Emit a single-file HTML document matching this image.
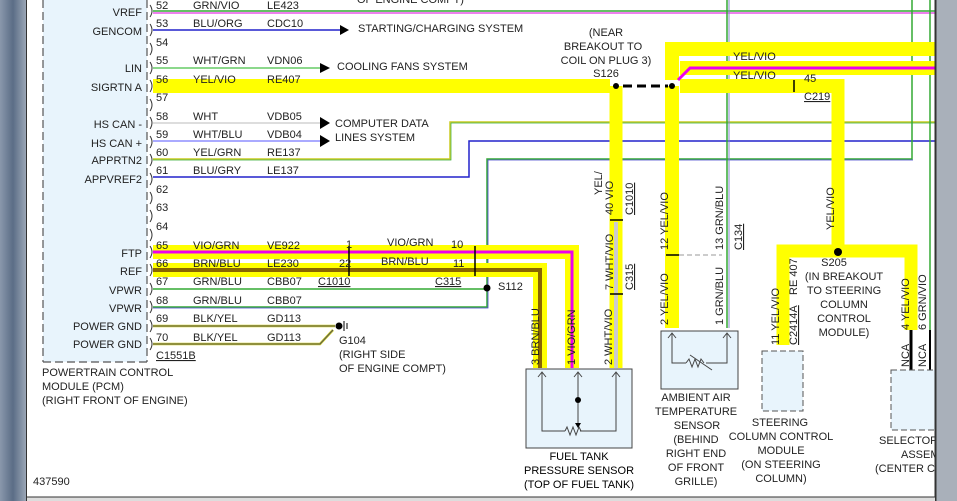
<!DOCTYPE html>
<html><head><meta charset="utf-8"><style>
html,body{margin:0;padding:0;background:#fff;}
svg{display:block;font-family:"Liberation Sans",sans-serif;font-size:11px;}
</style></head><body>
<svg width="957" height="501" viewBox="0 0 957 501" xmlns="http://www.w3.org/2000/svg">
<defs>
<linearGradient id="lf" x1="0" x2="1"><stop offset="0" stop-color="#8a98ac"/><stop offset="0.5" stop-color="#5b6d86"/><stop offset="1" stop-color="#9aa6b6"/></linearGradient>
</defs>
<rect x="0" y="0" width="957" height="501" fill="#fff"/>
<rect x="43" y="0" width="104" height="362" fill="#e8f4fc"/>
<line x1="43" y1="0" x2="43" y2="362" stroke="#555" stroke-dasharray="8,4" stroke-width="1.2"/>
<line x1="43" y1="362" x2="147" y2="362" stroke="#555" stroke-dasharray="8,4" stroke-width="1.2"/>
<line x1="147" y1="0" x2="147" y2="362" stroke="#555" stroke-dasharray="8,4" stroke-width="1.2"/>
<g text-anchor="end" fill="#222">
<text x="142" y="16">VREF</text><text x="142" y="35">GENCOM</text>
<text x="142" y="72">LIN</text><text x="142" y="91">SIGRTN A</text>
<text x="142" y="128">HS CAN -</text><text x="142" y="147">HS CAN +</text>
<text x="142" y="164">APPRTN2</text><text x="142" y="183">APPVREF2</text>
<text x="142" y="257">FTP</text><text x="142" y="275">REF</text>
<text x="142" y="294">VPWR</text><text x="142" y="312">VPWR</text>
<text x="142" y="330">POWER GND</text><text x="142" y="348">POWER GND</text>
</g>
<g fill="none" stroke="#333" stroke-width="1">
<path d="M150 5 q4 6 0 12 M150 24 q4 6 0 12 M150 43 q4 6 0 12 M150 62 q4 6 0 12 M150 80 q4 6 0 12 M150 99 q4 6 0 12 M150 117 q4 6 0 12 M150 136 q4 6 0 12 M150 154 q4 6 0 12 M150 173 q4 6 0 12 M150 192 q4 6 0 12 M150 210 q4 6 0 12 M150 229 q4 6 0 12 M150 246 q4 6 0 12 M150 264 q4 6 0 12 M150 283 q4 6 0 12 M150 301 q4 6 0 12 M150 320 q4 6 0 12 M150 338 q4 6 0 12"/>
</g>
<line x1="153" y1="11" x2="935" y2="11" stroke="#3a3" stroke-width="1.5"/>
<line x1="153" y1="13" x2="935" y2="13" stroke="#d0d" stroke-width="1"/>
<line x1="153" y1="30" x2="340" y2="30" stroke="#22c" stroke-width="1.5"/>
<polygon points="340,25 349,30 340,35" fill="#000"/>
<line x1="153" y1="68" x2="320" y2="68" stroke="#6c6" stroke-width="1.5"/>
<polygon points="320,63 330,68 320,73" fill="#000"/>
<line x1="153" y1="123" x2="320" y2="123" stroke="#ddd" stroke-width="2"/>
<polygon points="320,117 330,123 320,129" fill="#000"/>
<line x1="153" y1="141" x2="320" y2="141" stroke="#aaf" stroke-width="2"/>
<polygon points="320,135 330,141 320,147" fill="#000"/>
<polyline points="153,159 450,159 450,122 935,122" fill="none" stroke="#cc2" stroke-width="1.5"/>
<polyline points="153,160 451,160 451,123 935,123" fill="none" stroke="#3a3" stroke-width="0.7"/>
<polyline points="153,177 469,177 469,141 935,141" fill="none" stroke="#22c" stroke-width="1.5"/>
<polyline points="153,289 487,289" fill="none" stroke="#3a3" stroke-width="1.5"/>
<polyline points="153,307 487,307 487,159 912,159 912,0" fill="none" stroke="#3a3" stroke-width="1.5"/>
<polyline points="153,308 488,308 488,160 913,160" fill="none" stroke="#44c" stroke-width="0.8"/>
<line x1="930" y1="0" x2="930" y2="380" stroke="#3a3" stroke-width="1.5"/>
<line x1="727" y1="0" x2="727" y2="328" stroke="#3a3" stroke-width="1.5"/>
<line x1="729" y1="0" x2="729" y2="328" stroke="#88c" stroke-width="1"/>
<polyline points="153,326 335,326" stroke="#cc2" stroke-width="2.5" fill="none"/>
<polyline points="153,326 335,326" stroke="#555" stroke-width="1" fill="none"/>
<polyline points="153,344 320,344 333,330" stroke="#cc2" stroke-width="2.5" fill="none"/>
<polyline points="153,344 320,344 333,330" stroke="#555" stroke-width="1" fill="none"/>
<circle cx="339" cy="326" r="3.5" fill="#000"/>
<path d="M344 321 v10 M347 323 v6" stroke="#000"/>
<g fill="none" stroke="#ff0" stroke-linejoin="miter">
<line x1="153" y1="86" x2="610" y2="86" stroke-width="14"/>
<line x1="680" y1="86" x2="838" y2="86" stroke-width="14"/>
<polyline points="838,79 838,252" stroke-width="13"/>
<polyline points="616,86 616,368" stroke-width="13"/>
<polyline points="672,86 672,328" stroke-width="14"/>
<polyline points="672,80 672,49 935,49" stroke-width="14"/>
<line x1="680" y1="68" x2="935" y2="68" stroke-width="14"/>
<polyline points="153,252 572,252 572,368" stroke-width="14"/>
<polyline points="153,270 540,270 540,368" stroke-width="14"/>
<polyline points="783,345 783,251 911,251 911,330" stroke-width="13"/>
</g>
<line x1="616" y1="222" x2="616" y2="368" stroke="#ccc" stroke-width="4"/>
<polyline points="153,252 572,252 572,368" fill="none" stroke="#e0e" stroke-width="3"/>
<polyline points="153,270 540,270 540,368" fill="none" stroke="#860" stroke-width="4"/>
<polyline points="678,80 690,68 935,68" fill="none" stroke="#e0e" stroke-width="3"/>
<line x1="623" y1="86" x2="668" y2="86" stroke="#000" stroke-width="3" stroke-dasharray="9,5"/>
<circle cx="616" cy="86" r="3" fill="#000"/><circle cx="672" cy="86" r="3" fill="#000"/>
<circle cx="838" cy="252" r="4" fill="#000"/>
<circle cx="487" cy="288" r="3.5" fill="#000"/>
<line x1="794" y1="80" x2="794" y2="92" stroke="#000" stroke-width="1.5"/>
<line x1="349" y1="246" x2="349" y2="276" stroke="#000" stroke-width="1.5"/>
<line x1="475" y1="246" x2="475" y2="276" stroke="#000" stroke-width="1.5"/>
<line x1="610" y1="220" x2="623" y2="220" stroke="#000" stroke-width="1.5"/>
<line x1="610" y1="294" x2="623" y2="294" stroke="#000" stroke-width="1.5"/>
<line x1="666" y1="255" x2="679" y2="255" stroke="#000" stroke-width="1.5"/>
<line x1="679" y1="255" x2="722" y2="255" stroke="#999" stroke-dasharray="5,3"/>
<line x1="911" y1="330" x2="911" y2="370" stroke="#000" stroke-width="3"/>
<line x1="930" y1="330" x2="930" y2="370" stroke="#000" stroke-width="2"/>
<g fill="#222">
<text x="156" y="9">52</text><text x="193" y="9">GRN/VIO</text><text x="267" y="9">LE423</text>
<text x="156" y="27">53</text><text x="193" y="27">BLU/ORG</text><text x="267" y="27">CDC10</text>
<text x="156" y="46">54</text>
<text x="156" y="64">55</text><text x="193" y="64">WHT/GRN</text><text x="267" y="64">VDN06</text>
<text x="156" y="83">56</text><text x="193" y="83">YEL/VIO</text><text x="267" y="83">RE407</text>
<text x="156" y="101">57</text>
<text x="156" y="120">58</text><text x="193" y="120">WHT</text><text x="267" y="120">VDB05</text>
<text x="156" y="138">59</text><text x="193" y="138">WHT/BLU</text><text x="267" y="138">VDB04</text>
<text x="156" y="156">60</text><text x="193" y="156">YEL/GRN</text><text x="267" y="156">RE137</text>
<text x="156" y="174">61</text><text x="193" y="174">BLU/GRY</text><text x="267" y="174">LE137</text>
<text x="156" y="193">62</text><text x="156" y="211">63</text><text x="156" y="230">64</text>
<text x="156" y="249">65</text><text x="193" y="249">VIO/GRN</text><text x="267" y="249">VE922</text>
<text x="156" y="267">66</text><text x="193" y="267">BRN/BLU</text><text x="267" y="267">LE230</text>
<text x="156" y="285">67</text><text x="193" y="285">GRN/BLU</text><text x="267" y="285">CBB07</text>
<text x="156" y="304">68</text><text x="193" y="304">GRN/BLU</text><text x="267" y="304">CBB07</text>
<text x="156" y="322">69</text><text x="193" y="322">BLK/YEL</text><text x="267" y="322">GD113</text>
<text x="156" y="341">70</text><text x="193" y="341">BLK/YEL</text><text x="267" y="341">GD113</text>
<text x="156" y="359" text-decoration="underline">C1551B</text>
<text x="357" y="3">OF ENGINE COMPT)</text>
<text x="358" y="32">STARTING/CHARGING SYSTEM</text>
<text x="337" y="70">COOLING FANS SYSTEM</text>
<text x="335" y="127">COMPUTER DATA</text><text x="335" y="141">LINES SYSTEM</text>
<text x="346" y="248">1</text><text x="387" y="246">VIO/GRN</text><text x="451" y="248">10</text>
<text x="339" y="267">22</text><text x="381" y="265">BRN/BLU</text><text x="453" y="267">11</text>
<text x="318" y="285" text-decoration="underline">C1010</text><text x="435" y="285" text-decoration="underline">C315</text>
<text x="498" y="290">S112</text>
<text x="339" y="344">G104</text><text x="339" y="358">(RIGHT SIDE</text><text x="339" y="372">OF ENGINE COMPT)</text>
<text x="42" y="376">POWERTRAIN CONTROL</text><text x="42" y="390">MODULE (PCM)</text><text x="42" y="404">(RIGHT FRONT OF ENGINE)</text>
<text x="33" y="485">437590</text>
<text x="606" y="36" text-anchor="middle">(NEAR</text>
<text x="603" y="50" text-anchor="middle">BREAKOUT TO</text>
<text x="606" y="64" text-anchor="middle">COIL ON PLUG 3)</text>
<text x="606" y="77" text-anchor="middle">S126</text>
<text x="733" y="60">YEL/VIO</text><text x="733" y="79">YEL/VIO</text>
<text x="804" y="82">45</text><text x="804" y="100" text-decoration="underline">C219</text>
<text x="834" y="266" text-anchor="middle">S205</text>
<text x="844" y="280" text-anchor="middle">(IN BREAKOUT</text>
<text x="844" y="294" text-anchor="middle">TO STEERING</text>
<text x="844" y="308" text-anchor="middle">COLUMN</text>
<text x="844" y="322" text-anchor="middle">CONTROL</text>
<text x="844" y="336" text-anchor="middle">MODULE)</text>
</g>
<g fill="#222">
<text transform="translate(602,195) rotate(-90)">YEL/</text>
<text transform="translate(613,215) rotate(-90)">40 VIO</text>
<text transform="translate(633,215) rotate(-90)" text-decoration="underline">C1010</text>
<text transform="translate(613,290) rotate(-90)">7 WHT/VIO</text>
<text transform="translate(633,290) rotate(-90)" text-decoration="underline">C315</text>
<text transform="translate(668,250) rotate(-90)">12  YEL/VIO</text>
<text transform="translate(723,250) rotate(-90)">13  GRN/BLU</text>
<text transform="translate(742,250) rotate(-90)" text-decoration="underline">C134</text>
<text transform="translate(668,325) rotate(-90)">2 YEL/VIO</text>
<text transform="translate(723,325) rotate(-90)">1 GRN/BLU</text>
<text transform="translate(834,230) rotate(-90)">YEL/VIO</text>
<text transform="translate(779,345) rotate(-90)">11  YEL/VIO</text>
<text transform="translate(797,295) rotate(-90)">RE 407</text>
<text transform="translate(797,345) rotate(-90)" text-decoration="underline">C2414A</text>
<text transform="translate(909,330) rotate(-90)">4  YEL/VIO</text>
<text transform="translate(926,330) rotate(-90)">6  GRN/VIO</text>
<text transform="translate(944,330) rotate(-90)">5  GRY</text>
<text transform="translate(909,367) rotate(-90)">NCA</text>
<text transform="translate(926,367) rotate(-90)">NCA</text>
<text transform="translate(944,367) rotate(-90)">NCA</text>
<text transform="translate(919,420) rotate(-90)">SST RTN</text>
<text transform="translate(937,405) rotate(-90)">SST -</text>
<text transform="translate(539,365) rotate(-90)">3 BRN/BLU</text>
<text transform="translate(575,365) rotate(-90)">1 VIO/GRN</text>
<text transform="translate(612,365) rotate(-90)">2 WHT/VIO</text>
</g>
<rect x="526" y="369" width="106" height="79" fill="#e8f4fc" stroke="#444"/>
<g fill="none" stroke="#444">
<polyline points="542,372 542,431 565,431"/><polyline points="580,431 616,431 616,372"/>
<path d="M565 431 l2 -4 l3 8 l3 -8 l3 8 l3 -8 l2 4"/>
<line x1="578" y1="372" x2="578" y2="424"/>
<path d="M538 377 l4 -5 l4 5 M574 377 l4 -5 l4 5 M612 377 l4 -5 l4 5"/>
</g>
<circle cx="578" cy="400" r="3" fill="#000"/><polygon points="575,423 581,423 578,428" fill="#000"/>
<text x="579" y="460" text-anchor="middle">FUEL TANK</text>
<text x="579" y="474" text-anchor="middle">PRESSURE SENSOR</text>
<text x="579" y="488" text-anchor="middle">(TOP OF FUEL TANK)</text>
<rect x="661" y="331" width="77" height="58" fill="#e8f4fc" stroke="#444"/>
<g fill="none" stroke="#444">
<polyline points="672,333 672,363 686,363"/><polyline points="706,363 727,363 727,333"/>
<path d="M686 363 l3 -4 l3 8 l3 -8 l3 8 l3 -8 l3 4"/><line x1="690" y1="355" x2="712" y2="370"/>
<path d="M668 338 l4 -5 l4 5 M723 338 l4 -5 l4 5"/>
</g>
<g text-anchor="middle" fill="#222">
<text x="696" y="401">AMBIENT AIR</text><text x="696" y="415">TEMPERATURE</text><text x="697" y="429">SENSOR</text>
<text x="696" y="443">(BEHIND</text><text x="696" y="457">RIGHT END</text><text x="696" y="471">OF FRONT</text><text x="696" y="485">GRILLE)</text>
</g>
<rect x="762" y="351" width="41" height="60" fill="#e8f4fc" stroke="#555" stroke-dasharray="6,3"/>
<g text-anchor="middle" fill="#222">
<text x="780" y="426">STEERING</text><text x="781" y="440">COLUMN CONTROL</text><text x="781" y="454">MODULE</text>
<text x="781" y="468">(ON STEERING</text><text x="781" y="482">COLUMN)</text>
</g>
<rect x="891" y="370" width="50" height="60" fill="#e8f4fc" stroke="#555" stroke-dasharray="6,3"/>
<text x="879" y="444" fill="#222">SELECTOR L</text><text x="901" y="458" fill="#222">ASSEMB</text><text x="875" y="472" fill="#222">(CENTER CON</text>
<rect x="0" y="0" width="26" height="501" fill="url(#lf)"/>
<line x1="26.5" y1="0" x2="26.5" y2="501" stroke="#333"/>
<rect x="935" y="0" width="22" height="501" fill="#a9b0ba"/>
<line x1="935.5" y1="0" x2="935.5" y2="501" stroke="#333" stroke-width="2"/>
<rect x="27" y="497" width="908" height="4" fill="#ddd"/>
<line x1="27" y1="497" x2="935" y2="497" stroke="#333"/>
</svg>
</body></html>
